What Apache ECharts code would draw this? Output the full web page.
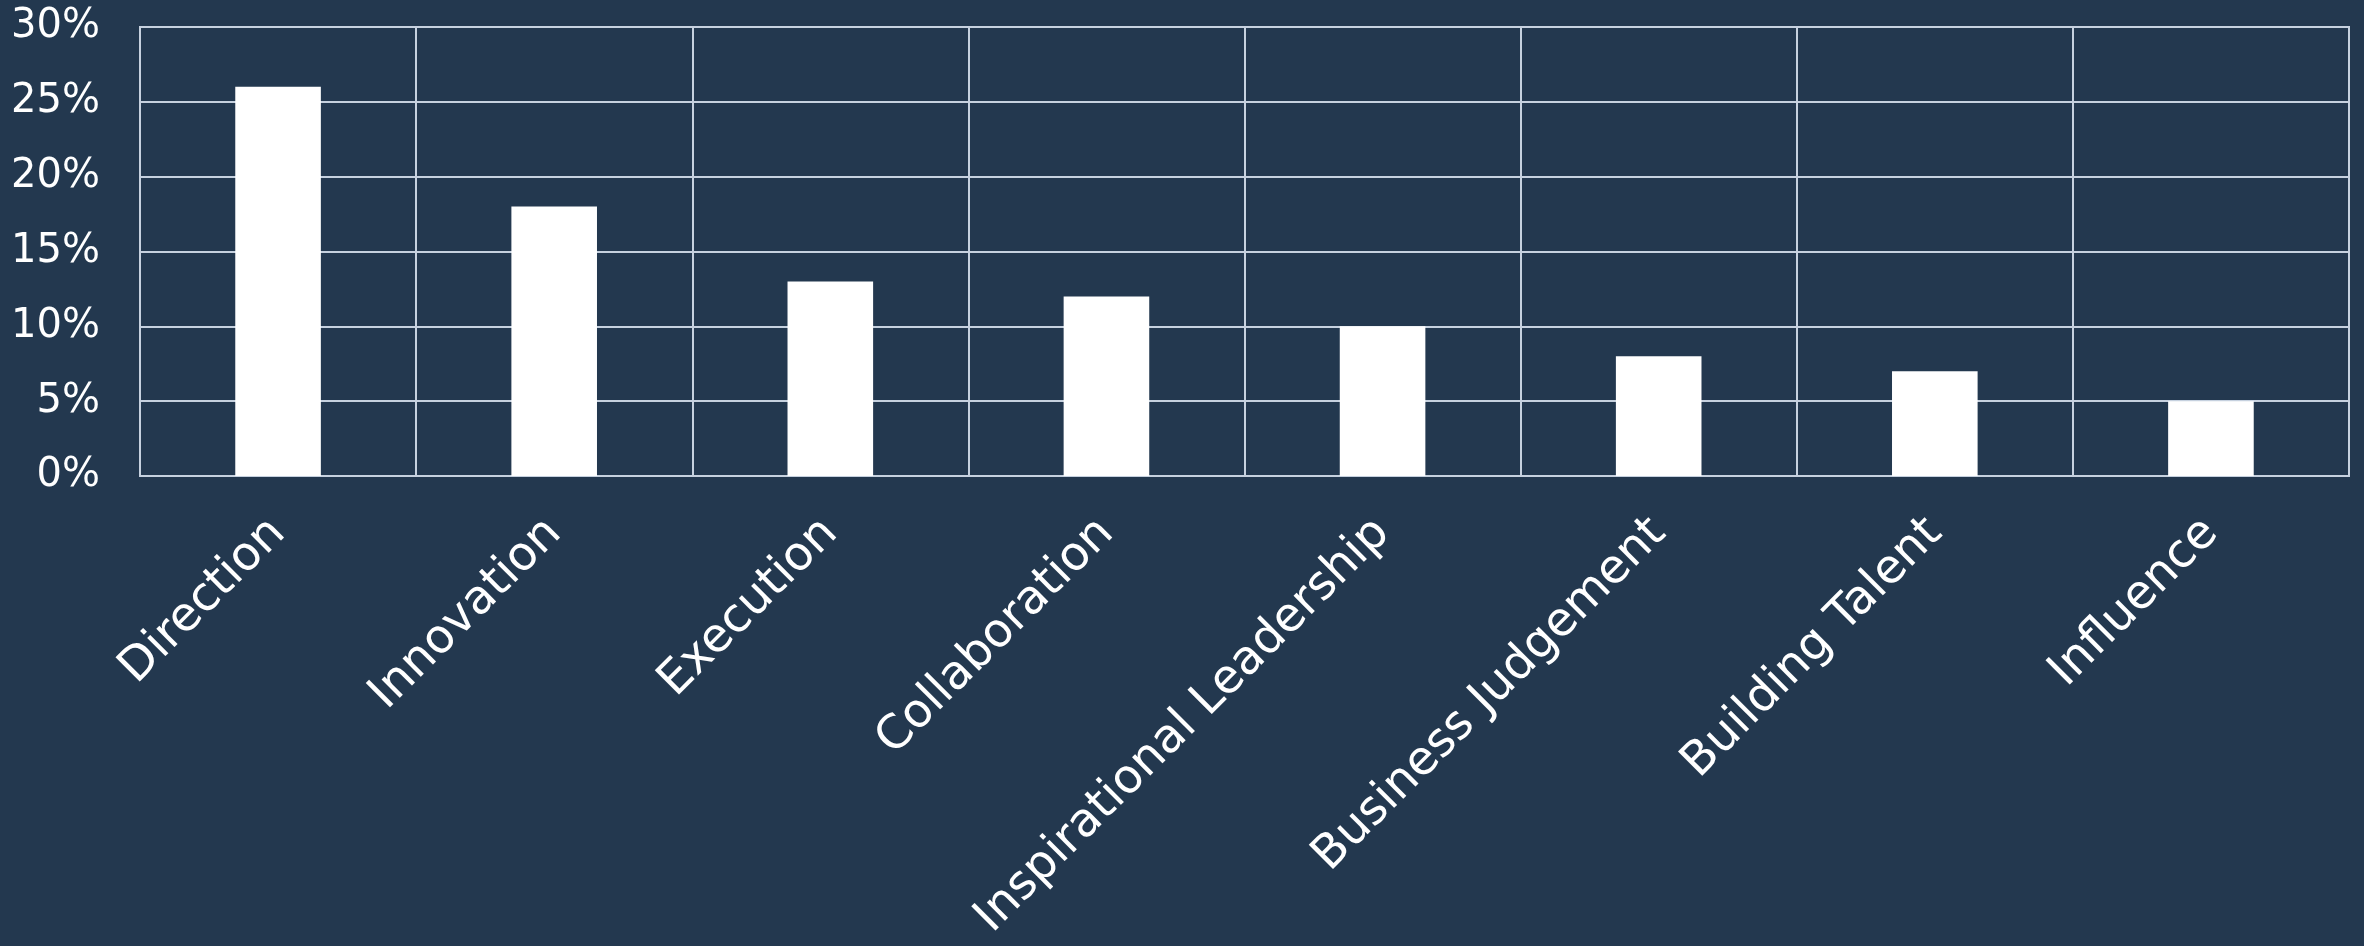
<!DOCTYPE html>
<html>
	<head>
		<meta charset="utf-8">
		<title>Bar chart</title>
		<style>
			html, body { margin: 0; padding: 0; background: #23384f; }
		</style>
	</head>
	<body>
		<div id="main" style="width: 2364px;height:946px;"></div>
	</body>
	<script src="https://cdn.jsdelivr.net/npm/echarts@6/dist/echarts.min.js"></script>
	<script type="text/javascript">
		'use strict'

		// categories and shares (%)
		var categories = ['Direction', 'Innovation', 'Execution', 'Collaboration',
			'Inspirational Leadership', 'Business Judgement', 'Building Talent', 'Influence'];
		var shares = [26, 18, 13, 12, 10, 8, 7, 5];
		var yTicks = [0, 5, 10, 15, 20, 25, 30];

		var lineColor = '#c6d1df';
		var font = 'DejaVu Sans';

		var myChart = echarts.init(document.getElementById('main'));
		var option = {
			backgroundColor: '#23384f',
			animation: false,
			grid: {
				left: 140,
				right: 15,
				top: 27,
				bottom: 470,
				show: true,
				borderColor: lineColor,
				borderWidth: 2
			},
			xAxis: {
				type: 'category',
				data: categories,
				axisLine: { lineStyle: { color: lineColor, width: 2 } },
				axisTick: { show: false },
				splitLine: { show: true, lineStyle: { color: lineColor, width: 2 } },
				axisLabel: {
					interval: 0,
					rotate: 45,
					margin: 50,
					color: '#ffffff',
					fontFamily: font,
					fontSize: 47
				}
			},
			yAxis: {
				type: 'value',
				min: yTicks[0],
				max: yTicks[yTicks.length - 1],
				interval: 5,
				axisLine: { show: true, lineStyle: { color: lineColor, width: 2 } },
				axisTick: { show: false },
				splitLine: { lineStyle: { color: lineColor, width: 2 } },
				axisLabel: {
					margin: 40,
					color: '#ffffff',
					fontFamily: font,
					fontSize: 40,
					formatter: '{value}%'
				}
			},
			series: [{
				type: 'bar',
				data: shares,
				barWidth: '31%',
				itemStyle: { color: '#ffffff' }
			}]
		};
		myChart.setOption(option);
	</script>
</html>
